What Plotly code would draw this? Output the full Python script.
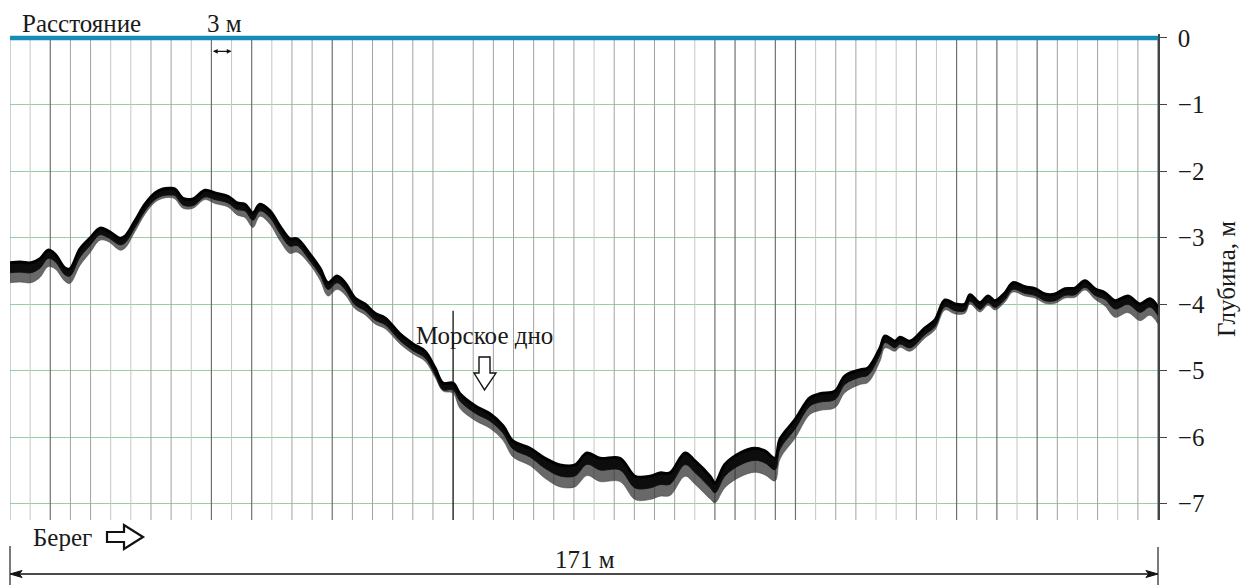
import plotly.graph_objects as go

# Профиль дна вдоль галса: расстояние от берега (м) и глубина верхней кромки эхосигнала (м)
distance_m = [
    0.0, 1.49, 3.13, 4.47, 5.66, 6.70, 8.19, 8.94, 10.43, 11.92,
    13.41, 14.60, 16.39, 17.13, 18.62, 20.11, 21.60, 22.79, 23.83, 24.58,
    25.77, 27.26, 29.05, 30.54, 32.47, 33.81, 35.00, 36.19, 37.23, 38.72,
    40.21, 41.70, 42.75, 44.68, 46.17, 47.37, 48.71, 49.90, 51.39, 52.88,
    54.37, 55.86, 58.09, 60.03, 61.82, 63.31, 64.50, 65.99, 67.03, 69.26,
    71.50, 73.43, 74.92, 77.46, 79.69, 81.92, 84.16, 85.95, 87.88, 90.86,
    93.10, 95.33, 96.82, 98.31, 100.55, 102.03, 104.27, 105.01, 106.50, 108.74,
    110.97, 112.46, 113.95, 114.70, 116.93, 119.16, 120.65, 122.89, 124.38, 126.61,
    127.80, 129.59, 130.34, 131.83, 132.57, 134.06, 136.29, 137.78, 139.27, 140.76,
    142.25, 143.00, 144.49, 145.68, 146.72, 148.21, 149.40, 151.19, 152.68, 154.17,
    155.66, 157.15, 158.64, 160.12, 161.61, 163.10, 164.60, 166.53, 168.32, 169.81,
    171.00,
]
seabed_top_m = [
    -3.38, -3.37, -3.38, -3.32, -3.19, -3.25, -3.46, -3.47, -3.17, -3.01,
    -2.86, -2.90, -3.01, -2.98, -2.75, -2.50, -2.33, -2.27, -2.26, -2.27,
    -2.41, -2.42, -2.29, -2.33, -2.38, -2.48, -2.50, -2.63, -2.50, -2.60,
    -2.83, -3.02, -3.02, -3.25, -3.46, -3.68, -3.58, -3.68, -3.91, -4.00,
    -4.14, -4.21, -4.45, -4.60, -4.71, -4.96, -5.19, -5.19, -5.35, -5.53,
    -5.65, -5.83, -6.06, -6.17, -6.32, -6.42, -6.42, -6.24, -6.32, -6.32,
    -6.59, -6.59, -6.54, -6.54, -6.24, -6.36, -6.59, -6.69, -6.41, -6.24,
    -6.17, -6.21, -6.32, -6.03, -5.74, -5.41, -5.35, -5.31, -5.08, -4.99,
    -4.96, -4.66, -4.48, -4.56, -4.50, -4.56, -4.36, -4.24, -3.94, -4.00,
    -4.00, -3.86, -3.98, -3.88, -3.95, -3.83, -3.68, -3.74, -3.77, -3.85,
    -3.85, -3.77, -3.76, -3.65, -3.77, -3.83, -3.95, -3.88, -4.00, -3.92,
    -4.05,
]
# Толщина полосы отражённого сигнала под кромкой (м)
echo_spread_m = [
    0.30, 0.30, 0.30, 0.28, 0.25, 0.22, 0.20, 0.22, 0.25, 0.22,
    0.18, 0.16, 0.18, 0.18, 0.16, 0.15, 0.14, 0.14, 0.14, 0.15,
    0.15, 0.14, 0.14, 0.16, 0.16, 0.18, 0.20, 0.22, 0.18, 0.20,
    0.22, 0.22, 0.20, 0.16, 0.18, 0.20, 0.20, 0.18, 0.16, 0.16,
    0.16, 0.16, 0.15, 0.15, 0.15, 0.14, 0.12, 0.15, 0.22, 0.22,
    0.22, 0.22, 0.24, 0.26, 0.30, 0.33, 0.33, 0.34, 0.35, 0.35,
    0.35, 0.35, 0.35, 0.34, 0.35, 0.35, 0.34, 0.30, 0.35, 0.36,
    0.36, 0.36, 0.34, 0.30, 0.28, 0.25, 0.25, 0.25, 0.25, 0.22,
    0.22, 0.20, 0.18, 0.15, 0.15, 0.15, 0.15, 0.15, 0.15, 0.15,
    0.14, 0.14, 0.14, 0.14, 0.14, 0.14, 0.14, 0.14, 0.14, 0.14,
    0.14, 0.14, 0.14, 0.14, 0.16, 0.20, 0.25, 0.25, 0.25, 0.25,
    0.25,
]

profile_length_m = 171
mark_step_m = 3
depth_ticks = [0, -1, -2, -3, -4, -5, -6, -7]
depth_tick_labels = ["0", "−1", "−2", "−3", "−4", "−5", "−6", "−7"]

Y_TOP, Y_BOTTOM = 0.06, -7.248
SERIF = "Liberation Serif"
FONT_SIZE = 25

# Оттенок вертикальных меток расстояния: 0 светлая, 1 средняя, 2 тёмная, 3 чёрная (от кромки вниз)
mark_shade = [
    1, 0, 2, 1, 1, 0, 0, 1, 1, 0,
    2, 0, 2, 0, 1, 1, 2, 1, 1, 1,
    1, 1, 3, 1, 1, 1, 1, 1, 1, 0,
    1, 1, 1, 1, 0, 2, 2, 1, 2, 2,
    0, 1, 1, 0, 0, 1, 0, 2, 1, 2,
    0, 2, 1, 0, 1, 0, 1, 2,
]
shade_color = {0: "#c6c6c6", 1: "#a2a2a2", 2: "#707070", 3: "#111111"}
shade_width = {0: 1.0, 1: 1.0, 2: 1.2, 3: 1.3}

fig = go.Figure()

# Вертикальные отметки через каждые 3 м
for shade in (0, 1, 2, 3):
    xs, ys = [], []
    for i, s in enumerate(mark_shade):
        if s != shade:
            continue
        x = i * mark_step_m
        top = 0 if shade != 3 else -4.1
        xs += [x, x, None]
        ys += [top, Y_BOTTOM, None]
    fig.add_trace(go.Scatter(x=xs, y=ys, mode="lines", hoverinfo="skip",
                             line=dict(color=shade_color[shade], width=shade_width[shade])))

# Полоса эхосигнала от дна: серый «хвост» и плотное чёрное ядро
lower = [t - s for t, s in zip(seabed_top_m, echo_spread_m)]
core = [t - max(0.1, 0.5 * s) for t, s in zip(seabed_top_m, echo_spread_m)]

fig.add_trace(go.Scatter(x=distance_m, y=lower, mode="lines", line_shape="spline",
                         line=dict(color="rgba(70,70,70,0.55)", width=1), hoverinfo="skip"))
fig.add_trace(go.Scatter(x=distance_m, y=seabed_top_m, mode="lines", fill="tonexty",
                         line_shape="spline",
                         fillcolor="rgba(40,40,40,0.7)", line=dict(width=0), hoverinfo="skip"))
fig.add_trace(go.Scatter(x=distance_m, y=core, mode="lines", line_shape="spline",
                         line=dict(color="#111111", width=1), hoverinfo="skip"))
fig.add_trace(go.Scatter(x=distance_m, y=seabed_top_m, mode="lines", fill="tonexty",
                         line_shape="spline",
                         fillcolor="#0d0d0d", line=dict(color="#000000", width=3),
                         hoverinfo="skip"))

# Поверхность воды
fig.add_trace(go.Scatter(x=[0, profile_length_m], y=[0, 0], mode="lines",
                         line=dict(color="#178cb6", width=4.5), hoverinfo="skip"))

ann_font = dict(family=SERIF, size=FONT_SIZE, color="#1a1a1a")
annotations = [
    dict(text="Расстояние", xref="paper", yref="paper", x=0.0087, y=1.0206,
         xanchor="left", yanchor="middle", showarrow=False, font=ann_font),
    dict(text="3 м", xref="paper", yref="paper", x=0.1699, y=1.0206,
         xanchor="left", yanchor="middle", showarrow=False, font=ann_font),
    # шкала 3 м
    dict(text="", xref="x", yref="y", x=33, y=-0.20, ax=30, ay=-0.20,
         axref="x", ayref="y", showarrow=True, arrowside="end+start",
         arrowhead=2, arrowsize=0.8, arrowwidth=1.2, arrowcolor="#111111"),
    dict(text="Морское дно", xref="x", yref="y", x=70.75, y=-4.47,
         xanchor="center", yanchor="middle", showarrow=False, font=ann_font),
    dict(text="Берег", xref="paper", yref="paper", x=0.0453, y=-0.035,
         xanchor="center", yanchor="middle", showarrow=False, font=ann_font),
    dict(text=f"{profile_length_m} м", xref="paper", yref="paper", x=0.5009, y=-0.0823,
         xanchor="center", yanchor="middle", showarrow=False, font=ann_font),
    dict(text="Глубина, м", xref="paper", yref="paper", x=1.0601, y=0.4959,
         xanchor="center", yanchor="middle", textangle=-90, showarrow=False, font=ann_font),
]

shapes = [
    # полая стрелка вниз к дну
    dict(type="path", xref="x", yref="y",
         path="M 69.86,-4.797 L 71.50,-4.797 L 71.50,-5.038 L 72.39,-5.038 "
              "L 70.68,-5.293 L 69.12,-5.038 L 69.86,-5.038 Z",
         line=dict(color="#111111", width=1.4), fillcolor="white"),
    # полая стрелка «от берега»
    dict(type="path", xref="paper", yref="paper",
         path="M 0.0845,-0.0247 L 0.0993,-0.0247 L 0.0993,-0.0103 L 0.1159,-0.0350 "
              "L 0.0993,-0.0597 L 0.0993,-0.0453 L 0.0845,-0.0453 Z",
         line=dict(color="#111111", width=2.2), fillcolor="white"),
    # размерная линия длины галса
    dict(type="line", xref="paper", yref="paper", x0=0.004, x1=0.996, y0=-0.1111, y1=-0.1111,
         line=dict(color="#111111", width=1.3)),
    dict(type="line", xref="paper", yref="paper", x0=0, x1=0, y0=-0.0535, y1=-0.1337,
         line=dict(color="#333333", width=1.3)),
    dict(type="line", xref="paper", yref="paper", x0=1, x1=1, y0=-0.0555, y1=-0.1337,
         line=dict(color="#333333", width=1.3)),
    dict(type="path", xref="paper", yref="paper",
         path="M 0,-0.1111 L 0.0105,-0.1039 L 0.0080,-0.1111 L 0.0105,-0.1183 Z",
         line=dict(color="#111111", width=1), fillcolor="#111111"),
    dict(type="path", xref="paper", yref="paper",
         path="M 1,-0.1111 L 0.9895,-0.1039 L 0.9920,-0.1111 L 0.9895,-0.1183 Z",
         line=dict(color="#111111", width=1), fillcolor="#111111"),
]

fig.update_layout(
    width=1243, height=585,
    margin=dict(l=10, r=85, t=34, b=65, pad=0),
    paper_bgcolor="white", plot_bgcolor="white",
    showlegend=False,
    font=dict(family=SERIF),
    xaxis=dict(range=[0, profile_length_m], visible=False, fixedrange=True),
    yaxis=dict(
        range=[Y_BOTTOM, Y_TOP], side="right",
        tickvals=depth_ticks, ticktext=depth_tick_labels,
        ticks="outside", ticklen=7, tickwidth=1.2, tickcolor="#444444",
        ticklabelstandoff=6,
        showline=True, linecolor="#444444", linewidth=1.6,
        showgrid=True, gridcolor="#98cfa4", gridwidth=1,
        zeroline=False, fixedrange=True,
        tickfont=dict(family=SERIF, size=FONT_SIZE, color="#1a1a1a"),
    ),
    annotations=annotations,
    shapes=shapes,
)

fig.write_html("out.html")
